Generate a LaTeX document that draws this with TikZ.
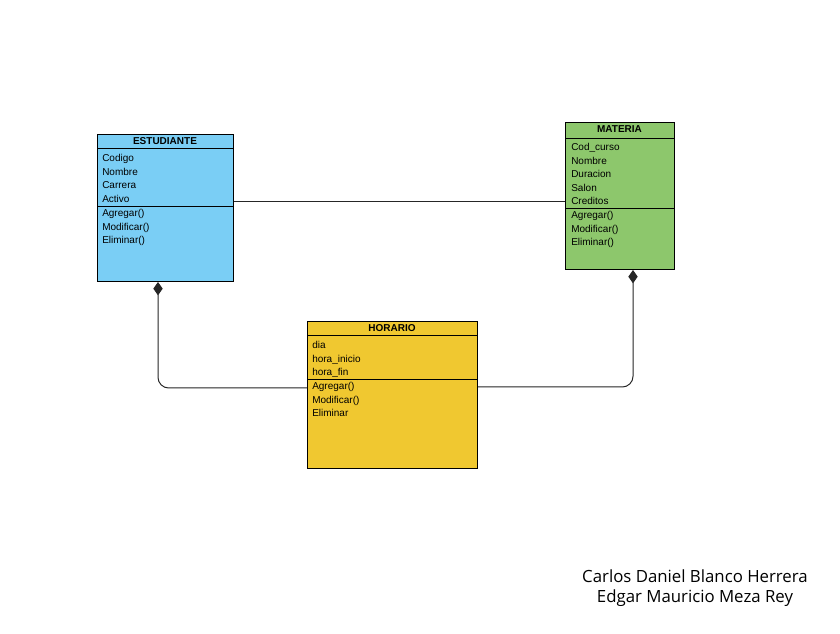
\documentclass[tikz,border=0pt]{standalone}
\usepackage{fontspec}
\setmainfont{Liberation Sans}
\newfontfamily\authorfont{Open Sans}
\usepackage{xcolor}
\usetikzlibrary{arrows.meta}

\definecolor{estblue}{RGB}{122,206,245}
\definecolor{matgreen}{RGB}{141,199,108}
\definecolor{horyellow}{RGB}{240,200,48}

\begin{document}
\begin{tikzpicture}[x=0.75pt, y=-0.75pt,
  classbox/.style={draw=black, line width=0.75pt, anchor=north west, inner sep=0pt},
  title/.style={font=\fontsize{7.5}{9}\selectfont\bfseries, anchor=base, inner sep=0pt},
  item/.style={font=\fontsize{7.5}{9}\selectfont, anchor=base west, inner sep=0pt},
  link/.style={draw=black!85, line width=0.75pt},
  compo/.style={link, rounded corners=8, {Diamond[length=10pt, width=7pt]}-}]
\fill[white] (0,0) rectangle (840,634);
\useasboundingbox (0,0) rectangle (840,634);

% ESTUDIANTE
\node[classbox, fill=estblue, minimum width=102pt, minimum height=110.25pt] (est) at (97,134) {};
\draw (est.west |- 0,148) -- (est.east |- 0,148);
\draw (est.west |- 0,206) -- (est.east |- 0,206);
\node[title] (est-t) at (165,144.5) {ESTUDIANTE};
\foreach \t [count=\i] in {Codigo,Nombre,Carrera,Activo}
  \node[item] (est-a\i) at (102,{148.5+13.5*\i}) {\t};
\foreach \t [count=\i] in {Agregar(),Modificar(),Eliminar()}
  \node[item] (est-m\i) at (102,{203.5+13.5*\i}) {\t};

% MATERIA
\node[classbox, fill=matgreen, minimum width=81.75pt, minimum height=110.25pt] (mat) at (565,122) {};
\draw (mat.west |- 0,138) -- (mat.east |- 0,138);
\draw (mat.west |- 0,208) -- (mat.east |- 0,208);
\node[title] (mat-t) at (619.5,133) {MATERIA};
\foreach \t [count=\i] in {Cod\_curso,Nombre,Duracion,Salon,Creditos}
  \node[item] (mat-a\i) at (571,{137.5+13.5*\i}) {\t};
\foreach \t [count=\i] in {Agregar(),Modificar(),Eliminar()}
  \node[item] (mat-m\i) at (571,{205.5+13.5*\i}) {\t};

% HORARIO
\node[classbox, fill=horyellow, minimum width=127.5pt, minimum height=110.25pt] (hor) at (307,321) {};
\draw (hor.west |- 0,335) -- (hor.east |- 0,335);
\draw (hor.west |- 0,379) -- (hor.east |- 0,379);
\node[title] (hor-t) at (392,331.5) {HORARIO};
\foreach \t [count=\i] in {dia,hora\_inicio,hora\_fin}
  \node[item] (hor-a\i) at (312,{335.5+13.5*\i}) {\t};
\foreach \t [count=\i] in {Agregar(),Modificar(),Eliminar}
  \node[item] (hor-m\i) at (312,{376.5+13.5*\i}) {\t};

% relaciones
\draw[link] (est.east |- 0,202) -- (mat.west |- 0,202);
\draw[compo] (est.south -| 158,0) |- (hor.west |- 0,388);
\draw[compo] (mat.south -| 633,0) |- (hor.east |- 0,387);

% autores
\node[font=\authorfont\fontsize{12.6}{15}\selectfont, align=center, inner sep=0pt, anchor=base] (autores) at (695,603)
  {Carlos Daniel Blanco Herrera\\Edgar Mauricio Meza Rey};
\end{tikzpicture}
\end{document}
